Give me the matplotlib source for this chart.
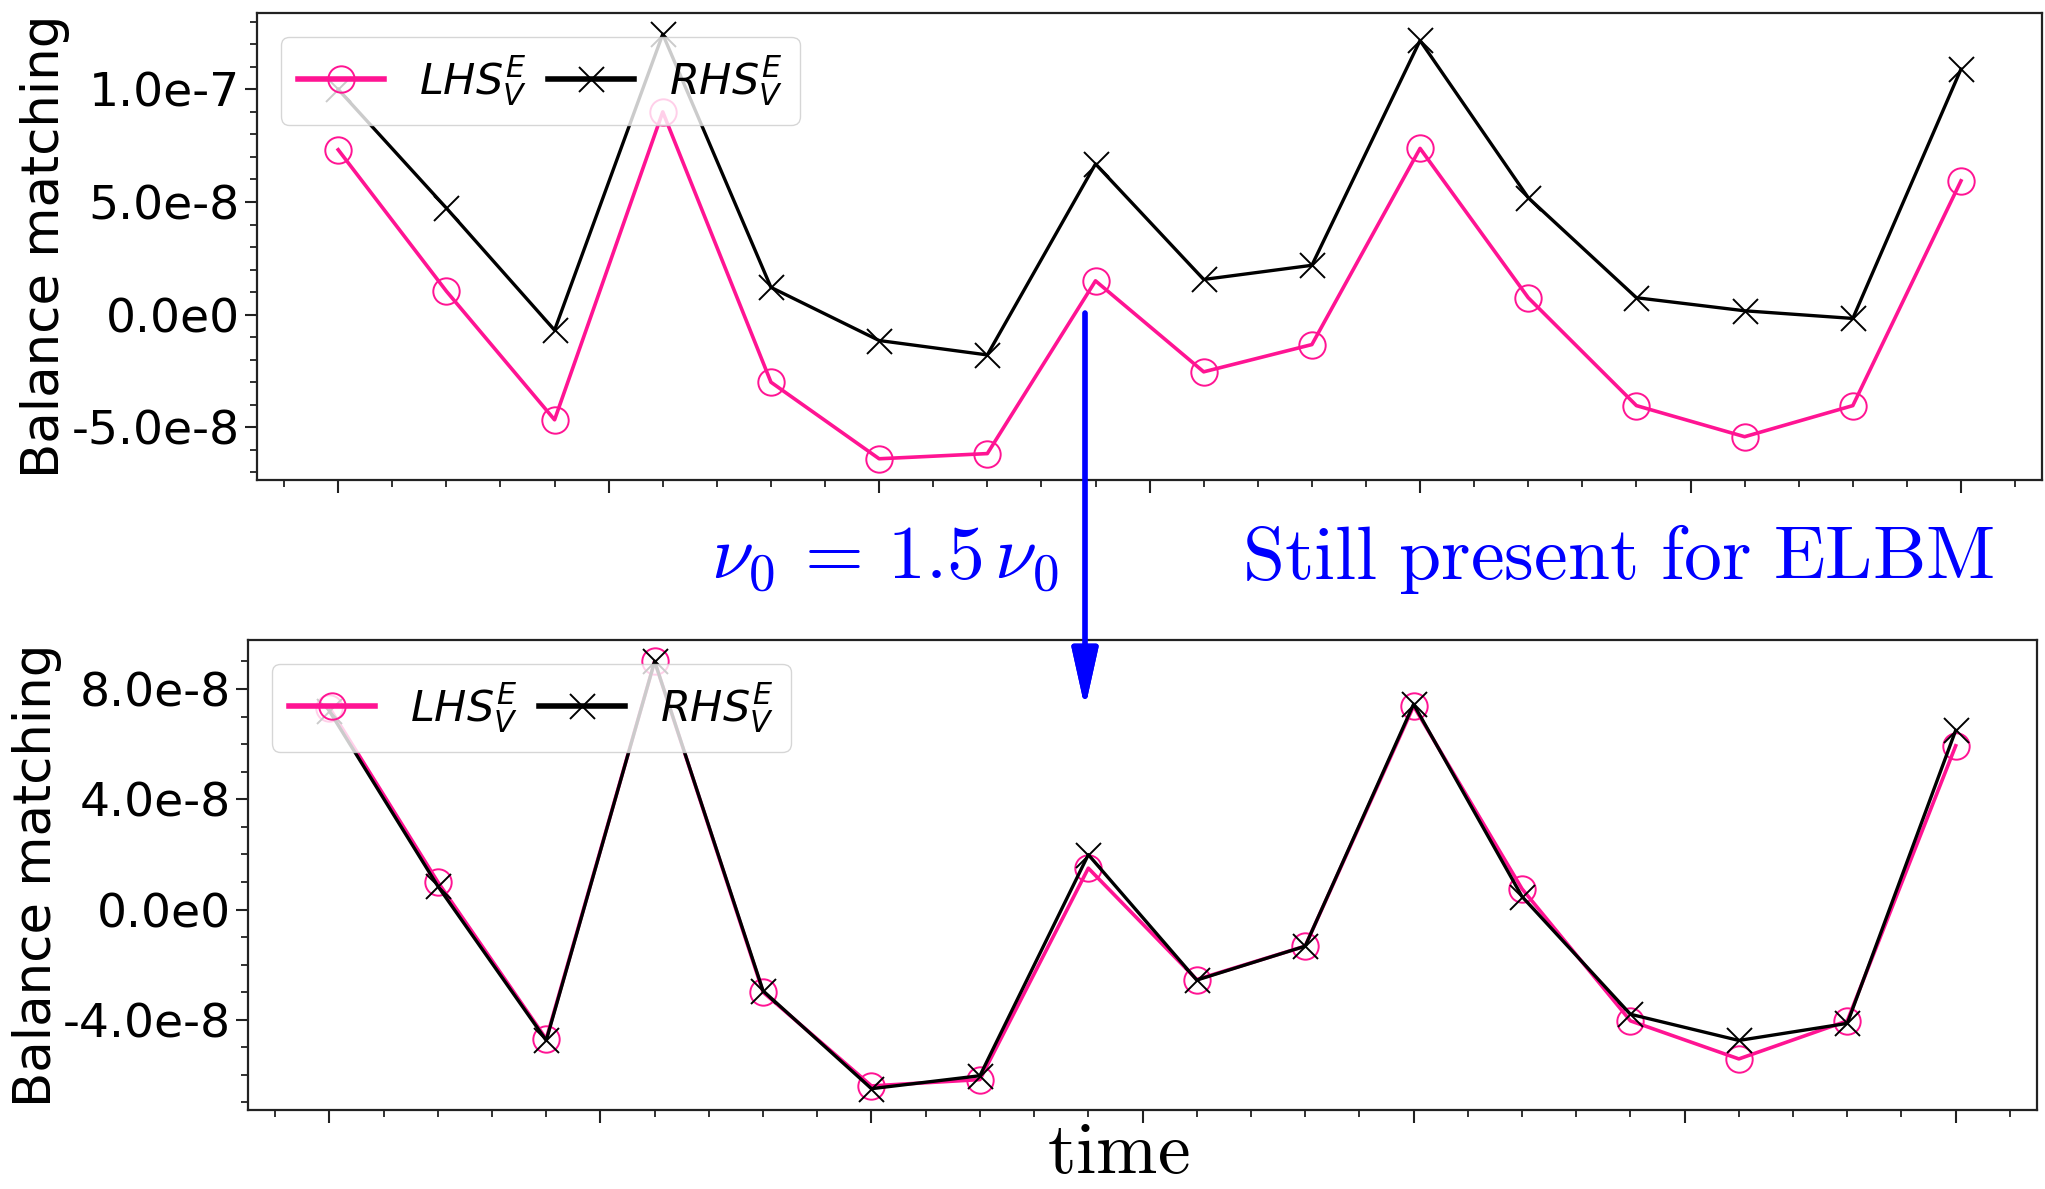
import matplotlib
matplotlib.use("Agg")
import matplotlib.pyplot as plt
import numpy as np
from matplotlib.ticker import MultipleLocator, FuncFormatter

t = np.arange(16)

# top panel
lhs_top = [7.32e-8, 1.04e-8, -4.67e-8, 9.0e-8, -3.0e-8, -6.4e-8, -6.17e-8, 1.5e-8,
           -2.54e-8, -1.33e-8, 7.38e-8, 0.75e-8, -4.04e-8, -5.42e-8, -4.04e-8, 5.94e-8]
rhs_top = [1.0e-7, 4.73e-8, -0.69e-8, 1.245e-7, 1.21e-8, -1.15e-8, -1.79e-8, 6.69e-8,
           1.56e-8, 2.19e-8, 1.217e-7, 5.19e-8, 0.75e-8, 0.17e-8, -0.17e-8, 1.09e-7]

# bottom panel (nu0 = 1.5 nu0)
lhs_bot = [7.32e-8, 1.0e-8, -4.7e-8, 9.0e-8, -3.0e-8, -6.4e-8, -6.17e-8, 1.5e-8,
           -2.54e-8, -1.33e-8, 7.38e-8, 0.75e-8, -4.04e-8, -5.42e-8, -4.04e-8, 5.94e-8]
rhs_bot = [7.2e-8, 0.85e-8, -4.75e-8, 9.0e-8, -2.95e-8, -6.5e-8, -6.03e-8, 1.99e-8,
           -2.56e-8, -1.33e-8, 7.45e-8, 0.47e-8, -3.8e-8, -4.75e-8, -4.13e-8, 6.5e-8]

pink = "#ff1493"
blue = "#0000ff"


def sci(v, pos):
    m, e = "{:.1e}".format(v).split("e")
    return m + "e" + str(int(e))


fig = plt.figure(figsize=(20.45, 11.89), dpi=100)
ax1 = fig.add_axes([0.1257, 0.5963, 0.8729, 0.3928])
ax2 = fig.add_axes([0.1213, 0.0664, 0.8748, 0.3953])

for ax, lhs, rhs, step in [(ax1, lhs_top, rhs_top, 5e-8), (ax2, lhs_bot, rhs_bot, 4e-8)]:
    ax.plot(t, lhs, color=pink, lw=2.6, marker="o", ms=19, mfc="none", mew=1.4,
            label=r"$LHS_V^E$")
    ax.plot(t, rhs, color="black", lw=2.4, marker="x", ms=18, mew=1.4,
            label=r"$RHS_V^E$")
    ax.xaxis.set_major_locator(MultipleLocator(2.5))
    ax.xaxis.set_minor_locator(MultipleLocator(0.5))
    ax.xaxis.set_major_formatter(FuncFormatter(lambda v, p: ""))
    ax.yaxis.set_major_locator(MultipleLocator(step))
    ax.yaxis.set_minor_locator(MultipleLocator(1e-8))
    ax.yaxis.set_major_formatter(FuncFormatter(sci))
    ax.tick_params(which="major", length=9, width=1.5, labelsize=34, color="#222222")
    ax.tick_params(which="minor", length=5, width=1.3, color="#222222")
    for s in ax.spines.values():
        s.set_linewidth(1.6)
        s.set_color("#222222")
    ax.set_ylabel("Balance matching", fontsize=37)
    leg = ax.legend(loc="upper left", ncol=2, fontsize=31, columnspacing=0.5,
                    borderaxespad=0.55)
    for h in leg.get_lines():
        h.set_linewidth(4)

ax1.yaxis.set_label_coords(-0.105, 0.5)
ax2.yaxis.set_label_coords(-0.104, 0.5)

# annotations in figure pixels
fig.text(711, 610, r"$\nu_0\,=\,1.5\,\nu_0$", transform=None, color=blue,
         fontsize=54.5, math_fontfamily="cm", va="baseline", ha="left")
fig.text(1242, 610, r"$\mathrm{Still\ present\ for\ ELBM}$", transform=None,
         color=blue, fontsize=54.5, math_fontfamily="cm", va="baseline", ha="left")
fig.text(1118, 16, r"$\mathrm{time}$", transform=None, color="black",
         fontsize=53, math_fontfamily="cm", va="baseline", ha="center")
fig.add_artist(plt.annotate("", xy=(1085, 481), xytext=(1085, 876),
               xycoords="figure pixels", textcoords="figure pixels",
               arrowprops=dict(arrowstyle="-|>,head_length=3.6,head_width=0.8",
                               color=blue, lw=3.7, shrinkA=0, shrinkB=0,
                               mutation_scale=10)))

fig.savefig("out.png", dpi=100)
